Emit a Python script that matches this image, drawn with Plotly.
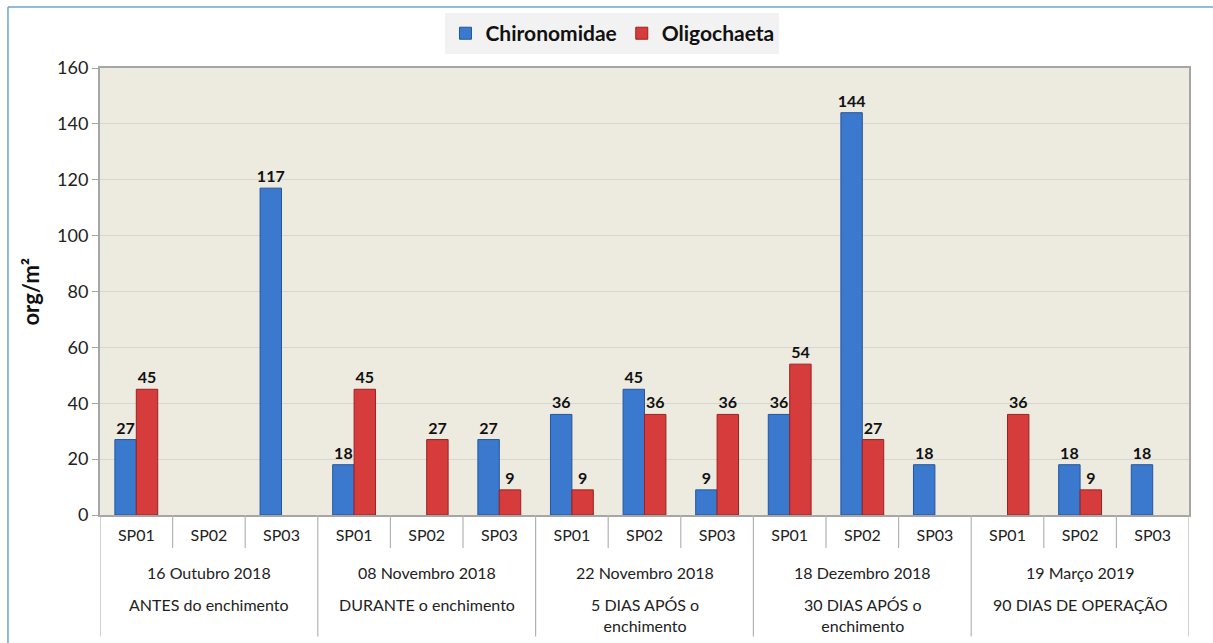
import plotly.graph_objects as go

# Sampling campaigns: date and filling stage
dates = ["16 Outubro 2018", "08 Novembro 2018", "22 Novembro 2018",
         "18 Dezembro 2018", "19 Março 2019"]
stages = ["ANTES do enchimento", "DURANTE o enchimento", "5 DIAS APÓS o<br>enchimento",
          "30 DIAS APÓS o<br>enchimento", "90 DIAS DE OPERAÇÃO"]
sites = ["SP01", "SP02", "SP03"]

# Density (org/m²) per campaign x site, in campaign order
chironomidae = [27, 0, 117,
                18, 0, 27,
                36, 45, 9,
                36, 144, 18,
                0, 18, 18]
oligochaeta = [45, 0, 0,
               45, 27, 9,
               9, 36, 36,
               54, 27, 0,
               36, 9, 0]

y_ticks = [0, 20, 40, 60, 80, 100, 120, 140, 160]

FONT = "Lato"
n_sites = len(sites)
x_pos = list(range(len(dates) * n_sites))
tick_text = [s for _ in dates for s in sites]


def labels(vals):
    return [str(v) if v else "" for v in vals]


def edge_widths(vals):
    return [1 if v else 0 for v in vals]


def bar_trace(vals, name, fill, edge):
    return go.Bar(
        x=x_pos, y=vals, name=name,
        marker=dict(color=fill, line=dict(color=edge, width=edge_widths(vals))),
        text=labels(vals), textposition="outside", cliponaxis=False,
        constraintext="none",
        textfont=dict(family=FONT, size=16, color="#111111", weight="bold"),
    )


fig = go.Figure()
fig.add_trace(bar_trace(chironomidae, "Chironomidae", "#3b79cf", "#24569c"))
fig.add_trace(bar_trace(oligochaeta, "Oligochaeta", "#d63c3c", "#992222"))

shapes = []
annotations = []
grid_col = "#b3b3b3"

# Category table separators below the plot
for i in range(len(x_pos) + 1):
    xb = i - 0.5
    group_edge = (i % n_sites == 0)
    shapes.append(dict(type="line", xref="x", yref="paper",
                       x0=xb, x1=xb, y0=0, y1=-0.272 if group_edge else -0.074,
                       line=dict(color=grid_col, width=1.2)))

for g, (d, s) in enumerate(zip(dates, stages)):
    xc = g * n_sites + (n_sites - 1) / 2
    annotations.append(dict(x=xc, y=-0.128, xref="x", yref="paper", text=d,
                            showarrow=False, yanchor="middle",
                            font=dict(family=FONT, size=16, color="#222222")))
    annotations.append(dict(x=xc, y=-0.174, xref="x", yref="paper", text=s,
                            showarrow=False, yanchor="top",
                            font=dict(family=FONT, size=16, color="#222222")))

# y-axis title
annotations.append(dict(x=-0.05, y=0.5, xref="paper", yref="paper",
                        text="<b>org/m²</b>", textangle=-90, showarrow=False,
                        xanchor="right",
                        font=dict(family=FONT, size=22, color="#111111")))

# Outer chart frame (left and top edges)
shapes.append(dict(type="line", xref="paper", yref="paper",
                   x0=-0.0845, x1=1.2, y0=1.1365, y1=1.1365,
                   line=dict(color="#6fa3d8", width=1.5)))
shapes.append(dict(type="line", xref="paper", yref="paper",
                   x0=-0.0845, x1=-0.0845, y0=-0.4, y1=1.1365,
                   line=dict(color="#6fa3d8", width=1.5)))

fig.update_layout(
    width=1213, height=643,
    margin=dict(l=100, r=24, t=68, b=128),
    paper_bgcolor="white",
    plot_bgcolor="#edeae0",
    barmode="group", bargap=0.41, bargroupgap=0,
    font=dict(family=FONT, color="#222222"),
    showlegend=True,
    legend=dict(orientation="h", x=0.4706, xanchor="center", y=1.077, yanchor="middle",
                bgcolor="#f2f2f2", font=dict(family=FONT, size=21, color="#111111", weight="bold"),
                itemwidth=30, traceorder="normal"),
    shapes=shapes, annotations=annotations,
    xaxis=dict(range=[-0.5, len(x_pos) - 0.5], tickmode="array", tickvals=x_pos,
               ticktext=tick_text, ticks="", showgrid=False, zeroline=False,
               showline=True, linecolor="#a6a6a6", linewidth=2, mirror=True,
               tickfont=dict(family=FONT, size=16, color="#222222"),
               ticklabelstandoff=5),
    yaxis=dict(range=[0, 160], tickvals=y_ticks, ticks="outside", ticklen=6,
               tickcolor="#a6a6a6", showgrid=True, gridcolor="#d8d6d0", gridwidth=1,
               zeroline=False, showline=True, linecolor="#a6a6a6", linewidth=2,
               mirror=True, tickfont=dict(family=FONT, size=18, color="#222222")),
)

fig.write_html("out.html")
